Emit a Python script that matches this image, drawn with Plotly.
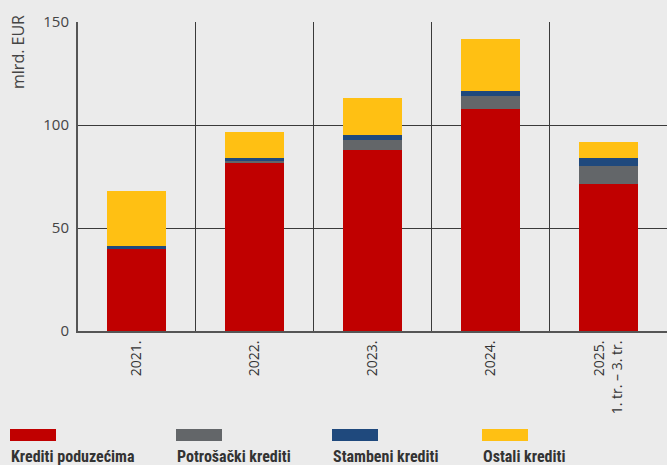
import plotly.graph_objects as go

categories = ["2021.", "2022.", "2023.", "2024.", "2025.<br>1. tr. – 3. tr."]
series_names = ["Krediti poduzećima", "Potrošački krediti", "Stambeni krediti", "Ostali krediti"]
krediti_poduzecima = [40.0, 81.6, 87.9, 107.8, 71.4]
potrosacki_krediti = [0.0, 1.0, 4.9, 6.3, 8.7]
stambeni_krediti = [1.5, 1.5, 2.4, 2.4, 3.9]
ostali_krediti = [26.6, 12.6, 18.0, 25.2, 7.8]
y_ticks = [0, 50, 100, 150]
y_title = "mlrd. EUR"

colors = ["#c00000", "#636669", "#1f497d", "#ffc013"]
values = [krediti_poduzecima, potrosacki_krediti, stambeni_krediti, ostali_krediti]

W, H = 667, 465
ML, MR, MT, MB = 78, 0, 22, 134
PW, PH = W - ML - MR, H - MT - MB

def px_x(x):
    return (x - ML) / PW

def px_y(y):
    return (H - MB - y) / PH

fig = go.Figure()
for name, vals, col in zip(series_names, values, colors):
    fig.add_trace(go.Bar(x=categories, y=vals, name=name,
                         marker=dict(color=col, line=dict(width=0)),
                         width=0.5, showlegend=False))

fig.update_layout(
    width=W, height=H, barmode="stack",
    margin=dict(l=ML, r=MR, t=MT, b=MB, pad=0),
    paper_bgcolor="#ebebeb", plot_bgcolor="#ebebeb",
    font=dict(family="Open Sans, Noto Sans, sans-serif", color="#444"),
    xaxis=dict(tickson="boundaries", showgrid=True, gridcolor="#3a3a3a", gridwidth=1.2,
               tickangle=-90, ticks="", tickfont=dict(size=14, color="#333"),
               ticklabelstandoff=2,
               showline=True, linecolor="#555", linewidth=2, mirror=False),
    yaxis=dict(range=[0, 150], tickvals=y_ticks, showgrid=True, gridcolor="#3a3a3a",
               gridwidth=1.2, zeroline=False, showline=True, linecolor="#555", linewidth=2,
               ticks="", tickfont=dict(size=15, color="#444"), ticklabelstandoff=4),
)

fig.add_annotation(text=y_title, textangle=-90, xref="paper", yref="paper",
                   x=px_x(18), y=px_y(13), xanchor="center", yanchor="top",
                   showarrow=False, font=dict(size=16, color="#444"))

legend_x = [10, 176, 332, 482]
for name, col, lx in zip(series_names, colors, legend_x):
    fig.add_shape(type="rect", xref="paper", yref="paper",
                  x0=px_x(lx), x1=px_x(lx + 46), y0=px_y(429), y1=px_y(441),
                  fillcolor=col, line=dict(width=0))
    fig.add_annotation(text="<b>" + name + "</b>", xref="paper", yref="paper",
                       x=px_x(lx), y=px_y(465), xanchor="left", yanchor="bottom",
                       showarrow=False, xshift=-1, yshift=-3,
                       font=dict(family="Roboto Condensed, Open Sans Condensed, sans-serif",
                                 size=16, color="#333"))

fig.write_html("out.html", config={"displayModeBar": False},
               post_script="document.body.style.margin='0px';")
